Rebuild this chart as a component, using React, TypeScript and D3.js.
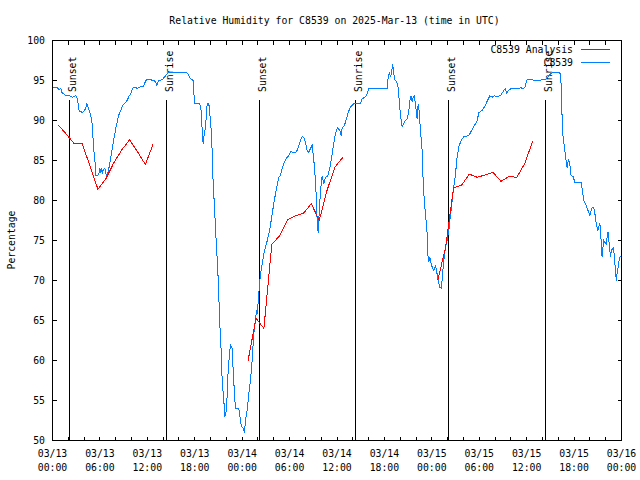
import React from 'react';
import * as d3 from 'd3';

const TITLE = 'Relative Humidity for C8539 on 2025-Mar-13 (time in UTC)';
const Y_LABEL = 'Percentage';
const SERIES_NAMES = ['C8539 Analysis', 'C8539'];
const SERIES_COLORS = ['#ff0000', '#0080ff'];

const X_TICK_HOURS = [0, 6, 12, 18, 24, 30, 36, 42, 48, 54, 60, 66, 72];
const X_TICK_DATES = ['03/13', '03/13', '03/13', '03/13', '03/14', '03/14', '03/14', '03/14', '03/15', '03/15', '03/15', '03/15', '03/16'];
const X_TICK_TIMES = ['00:00', '06:00', '12:00', '18:00', '00:00', '06:00', '12:00', '18:00', '00:00', '06:00', '12:00', '18:00', '00:00'];
const X_MINOR_TICK_HOURS = [0, 2, 4, 6, 8, 10, 12, 14, 16, 18, 20, 22, 24, 26, 28, 30, 32, 34, 36, 38, 40, 42, 44, 46, 48, 50, 52, 54, 56, 58, 60, 62, 64, 66, 68, 70, 72];
const Y_TICKS = [50, 55, 60, 65, 70, 75, 80, 85, 90, 95, 100];

const SUN_EVENT_HOURS = [2.2, 14.45, 26.2, 38.4, 50.15, 62.4];
const SUN_EVENT_LABELS = ['Sunset', 'Sunrise', 'Sunset', 'Sunrise', 'Sunset', 'Sunrise'];

// Analysis (hourly), null separates segments
const ANALYSIS_HOURS = [
  0.75, 1.75, 2.75, 3.75, 4.75, 5.75, 6.75, 7.75, 8.75, 9.75, 10.75, 11.75, 12.75, 13.75,
  24.75, 25.75, 26.75, 27.75, 28.75, 29.75, 30.75, 31.75, 32.75, 33.75, 34.75, 35.75, 36.75, 37.75,
  48.75, 49.75, 50.75, 51.75, 52.75, 53.75, 54.75, 55.75, 56.75, 57.75, 58.75, 59.75, 60.75,
];
const ANALYSIS_RH: (number | null)[] = [
  89.4, 88.3, 87.1, 87.1, 84.3, 81.4, 82.7, 84.7, 86.3, 87.6, 86.1, 84.5, 87.1, null,
  60.0, 65.3, 64.0, 74.5, 75.6, 77.6, 78.1, 78.4, 79.6, 77.5, 81.3, 84.2, 85.4, null,
  70.0, 74.2, 81.6, 81.9, 83.3, 82.9, 83.2, 83.5, 82.4, 83.0, 82.9, 84.6, 87.4,
];

// Observations: [hour since 03/13 00:00, RH]
const OBS: [number, number][] = [
  [0, 94.1], [0.63, 94.1], [0.84, 93.8], [1.05, 94.0], [1.18, 93.5], [1.69, 93.1], [2.1, 93.1], [2.53, 92.9],
  [2.95, 93.1], [3.16, 92.7], [3.29, 91.7], [3.37, 91.2], [3.8, 91.0], [4.22, 91.5], [4.3, 92.1], [4.43, 91.9],
  [4.64, 91.25], [4.85, 90.6], [4.98, 90.0], [5.06, 88.75], [5.15, 87.5], [5.27, 85.8], [5.4, 84.6], [5.48, 83.1],
  [5.69, 83.1], [5.9, 83.5], [5.99, 84.0], [6.12, 83.5], [6.24, 84.0], [6.33, 83.3], [6.41, 83.8], [6.62, 84.0],
  [6.75, 83.4], [6.87, 83.1], [7.0, 83.5], [7.17, 84.2], [7.38, 85.4], [7.59, 86.7], [7.8, 87.9], [8.01, 89.0],
  [8.22, 90.0], [8.43, 90.8], [8.65, 91.25], [8.86, 91.9], [9.07, 92.1], [9.28, 92.3], [9.49, 92.6], [9.7, 93.1],
  [9.91, 93.3], [10.12, 94.0], [10.33, 94.2], [10.75, 94.0], [11.05, 94.2], [11.47, 94.2], [11.68, 94.7], [11.89, 95.1],
  [12.44, 95.1], [12.65, 95.0], [12.86, 95.0], [13.07, 94.8], [13.2, 94.4], [13.41, 95.0], [13.92, 95.1], [14.13, 95.4],
  [14.68, 96.0], [16.95, 96.0], [17.17, 95.8], [17.38, 95.3], [17.8, 95.0], [17.97, 92.1], [18.64, 92.1], [18.81, 91.25],
  [18.94, 88.75], [19.06, 87.1], [19.15, 87.9], [19.36, 89.2], [19.57, 92.1], [19.78, 92.1], [19.9, 91.0], [20.08, 88.75],
  [20.2, 86.25], [20.33, 82.1], [20.5, 79.2], [20.62, 76.7], [20.75, 74.2], [20.92, 71.25], [21.05, 67.9], [21.17, 64.6],
  [21.34, 61.25], [21.47, 57.5], [21.68, 55.0], [21.8, 53.0], [22.02, 53.75], [22.18, 57.9], [22.39, 60.8], [22.52, 61.9],
  [22.73, 61.5], [22.86, 58.75], [23.03, 55.8], [23.15, 54.0], [23.58, 54.0], [23.7, 53.1], [23.87, 51.9], [24.12, 51.5],
  [24.29, 51.0], [24.42, 52.5], [24.63, 53.75], [24.84, 55.8], [25.05, 57.5], [25.26, 60.0], [25.47, 63.3], [25.68, 65.0],
  [25.81, 66.25], [25.9, 65.8], [25.98, 66.7], [26.1, 68.3], [26.23, 70.0], [26.4, 71.25], [26.61, 72.5], [26.82, 73.75],
  [27.08, 74.6], [27.37, 75.8], [27.58, 76.9], [27.79, 78.3], [28.0, 79.6], [28.21, 80.8], [28.43, 81.9], [28.64, 82.9],
  [28.85, 83.1], [29.06, 84.0], [29.27, 84.6], [29.48, 85.1], [29.69, 85.4], [29.9, 85.6], [30.11, 86.1], [30.74, 86.0],
  [30.96, 86.25], [31.17, 86.9], [31.38, 87.5], [31.59, 88.0], [31.8, 87.9], [32.01, 87.3], [32.22, 86.25], [32.43, 86.0],
  [32.64, 86.5], [32.85, 86.9], [32.98, 85.8], [33.15, 84.2], [33.32, 81.7], [33.49, 77.5], [33.61, 76.0], [33.74, 78.3],
  [33.91, 81.25], [34.12, 83.1], [34.33, 82.1], [34.54, 82.9], [34.84, 83.1], [35.09, 84.0], [35.26, 85.0], [35.51, 86.7],
  [35.72, 87.9], [35.93, 88.75], [36.1, 89.1], [36.35, 88.75], [36.52, 88.1], [36.65, 89.0], [36.94, 89.4], [37.2, 90.2],
  [37.41, 91.0], [37.71, 91.7], [37.92, 91.9], [38.13, 92.1], [38.97, 92.1], [39.18, 92.7], [39.6, 93.0], [39.81, 93.3],
  [40.03, 94.0], [42.34, 94.0], [42.47, 95.4], [42.64, 96.0], [42.77, 95.4], [42.89, 96.0], [43.06, 97.0], [43.19, 95.8],
  [43.31, 95.1], [43.53, 94.9], [43.7, 94.4], [43.82, 93.1], [43.95, 91.5], [44.12, 90.0], [44.24, 89.2], [44.45, 89.6],
  [44.66, 90.0], [44.88, 90.2], [45.09, 91.25], [45.21, 92.5], [45.38, 93.1], [45.51, 92.3], [45.63, 92.9], [45.8, 93.1],
  [45.93, 91.9], [46.06, 91.0], [46.14, 90.2], [46.27, 92.1], [46.39, 91.25], [46.56, 88.75], [46.77, 86.25], [46.9, 82.5],
  [47.07, 79.6], [47.24, 77.9], [47.41, 75.8], [47.49, 73.3], [47.62, 72.3], [47.74, 72.9], [47.91, 72.1], [48.04, 71.7],
  [48.25, 71.25], [48.46, 71.9], [48.67, 70.8], [48.97, 69.2], [49.22, 69.0], [49.35, 70.8], [49.51, 72.5], [49.73, 74.2],
  [49.94, 75.0], [50.15, 76.25], [50.27, 77.5], [50.44, 78.75], [50.57, 80.0], [50.78, 81.7], [50.99, 83.3], [51.2, 85.4],
  [51.41, 86.7], [51.71, 87.5], [52.05, 88.0], [52.68, 88.1], [52.89, 88.5], [53.23, 89.1], [53.52, 89.6], [53.74, 90.0],
  [53.95, 91.0], [54.37, 91.25], [54.66, 91.7], [55.0, 92.4], [55.34, 93.1], [55.63, 92.9], [55.93, 93.1], [56.06, 93.0],
  [56.69, 93.1], [57.11, 93.75], [57.32, 94.0], [57.45, 93.4], [57.74, 93.8], [58.04, 94.0], [59.01, 94.0], [59.22, 94.1],
  [59.56, 94.0], [59.77, 94.1], [59.94, 94.8], [60.06, 95.1], [60.7, 95.1], [60.91, 95.0], [62.38, 95.1], [63.0, 95.8],
  [63.35, 96.0], [64.07, 96.0], [64.28, 95.8], [64.41, 93.5], [64.49, 90.0], [64.62, 87.7], [64.79, 86.7], [64.9, 85.6],
  [65.04, 84.6], [65.12, 84.1], [65.2, 84.7], [65.33, 85.1], [65.46, 84.6], [65.55, 83.75], [65.63, 83.1], [65.88, 83.0],
  [65.97, 82.7], [66.1, 82.2], [66.9, 82.2], [67.02, 81.5], [67.15, 80.6], [67.23, 80.0], [67.44, 79.6], [67.65, 79.0],
  [67.87, 78.5], [67.99, 78.1], [68.16, 78.75], [68.29, 79.1], [68.5, 79.1], [68.62, 78.5], [68.71, 77.7], [68.84, 76.9],
  [69.0, 76.25], [69.13, 76.7], [69.26, 77.2], [69.34, 76.25], [69.47, 74.2], [69.55, 72.9], [69.64, 74.0], [69.76, 75.0],
  [69.89, 74.8], [70.06, 74.6], [70.19, 75.4], [70.31, 76.1], [70.4, 75.0], [70.52, 73.8], [70.61, 73.0], [70.73, 73.75],
  [70.94, 74.1], [71.11, 73.1], [71.24, 71.0], [71.37, 70.0], [71.45, 71.0], [71.58, 71.7], [71.7, 72.5], [71.87, 73.1],
];

const W = 640;
const H = 480;
const LEFT = 52.5;
const RIGHT = 621.5;
const TOP = 40.5;
const BOTTOM = 440.5;
const FONT = '"DejaVu Sans Mono", "Liberation Mono", monospace';
const FS = 9.8;
const TICK = 4;

export default function App() {
  const x = d3.scaleLinear().domain([0, 72]).range([LEFT, RIGHT]);
  const y = d3.scaleLinear().domain([50, 100]).range([BOTTOM, TOP]);

  const obsLine = d3
    .line<[number, number]>()
    .x((d) => x(d[0]))
    .y((d) => y(d[1]));

  const anaData = ANALYSIS_HOURS.map((h, i) => [h, ANALYSIS_RH[i]] as [number, number | null]);
  const anaLine = d3
    .line<[number, number | null]>()
    .defined((d) => d[1] !== null)
    .x((d) => x(d[0]))
    .y((d) => y(d[1] as number));

  const snap = (v: number) => Math.floor(v) + 0.5;

  return (
    <svg
      width={W}
      height={H}
      viewBox={`0 0 ${W} ${H}`}
      style={{ position: 'absolute', left: 0, top: 0, background: '#fff' }}
      fontFamily={FONT}
      fontSize={FS}
    >
      <rect x={0} y={0} width={W} height={H} fill="#fff" />

      {/* ticks */}
      <g stroke="#000" strokeWidth={1} shapeRendering="crispEdges">
        {Y_TICKS.map((t) => (
          <g key={'y' + t}>
            <line x1={LEFT} x2={LEFT + TICK} y1={snap(y(t))} y2={snap(y(t))} />
            <line x1={RIGHT - TICK} x2={RIGHT} y1={snap(y(t))} y2={snap(y(t))} />
          </g>
        ))}
        {X_MINOR_TICK_HOURS.map((t) => (
          <g key={'x' + t}>
            <line x1={snap(x(t))} x2={snap(x(t))} y1={BOTTOM} y2={BOTTOM - TICK} />
            <line x1={snap(x(t))} x2={snap(x(t))} y1={TOP} y2={TOP + TICK} />
          </g>
        ))}
      </g>

      {/* y tick labels */}
      {Y_TICKS.map((t) => (
        <text key={'yl' + t} x={45} y={y(t)} dy="0.36em" textAnchor="end" fill="#000">
          {t}
        </text>
      ))}

      {/* x tick labels */}
      {X_TICK_HOURS.map((h, i) => (
        <g key={'xl' + h}>
          <text x={x(h)} y={457} textAnchor="middle" fill="#000">
            {X_TICK_DATES[i]}
          </text>
          <text x={x(h)} y={471} textAnchor="middle" fill="#000">
            {X_TICK_TIMES[i]}
          </text>
        </g>
      ))}

      {/* sun events */}
      {SUN_EVENT_HOURS.map((h, i) => {
        const sx = snap(x(h));
        return (
          <g key={'sun' + i}>
            <line x1={sx} x2={sx} y1={100} y2={BOTTOM} stroke="#000" strokeWidth={1} shapeRendering="crispEdges" />
            <text
              transform={`translate(${sx + 6},92) rotate(-90)`}
              textAnchor="start"
              fill="#000"
            >
              {SUN_EVENT_LABELS[i]}
            </text>
          </g>
        );
      })}

      {/* data */}
      <path d={obsLine(OBS) || ''} fill="none" stroke={SERIES_COLORS[1]} strokeWidth={1} shapeRendering="crispEdges" />
      <path d={anaLine(anaData) || ''} fill="none" stroke={SERIES_COLORS[0]} strokeWidth={1} shapeRendering="crispEdges" />

      {/* frame */}
      <rect
        x={LEFT}
        y={TOP}
        width={RIGHT - LEFT}
        height={BOTTOM - TOP}
        fill="none"
        stroke="#000"
        strokeWidth={1}
        shapeRendering="crispEdges"
      />

      {/* legend */}
      {SERIES_NAMES.map((name, i) => (
        <g key={'leg' + i}>
          <text x={573} y={53 + i * 13} textAnchor="end" fill="#000">
            {name}
          </text>
          <line
            x1={581}
            x2={610}
            y1={49.5 + i * 13}
            y2={49.5 + i * 13}
            stroke={SERIES_COLORS[i]}
            strokeWidth={1}
            shapeRendering="crispEdges"
          />
        </g>
      ))}

      {/* title */}
      <text x={334.5} y={24} textAnchor="middle" fill="#000">
        {TITLE}
      </text>

      {/* y label */}
      <text transform="translate(15,240) rotate(-90)" textAnchor="middle" fill="#000">
        {Y_LABEL}
      </text>
    </svg>
  );
}
